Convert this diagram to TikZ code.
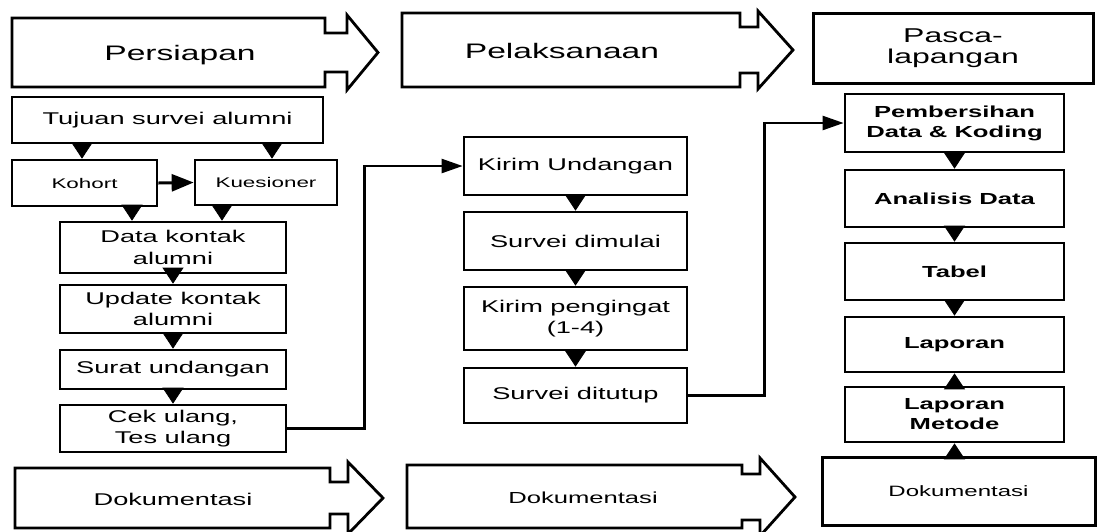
\documentclass[tikz,border=0pt]{standalone}
\usepackage{fontspec}
\setmainfont[FakeStretch=1.6]{Liberation Sans}
\usetikzlibrary{arrows.meta,calc}
\begin{document}
\begin{tikzpicture}[x=1pt,y=-1pt,
  box/.style={draw, line width=2.7pt, inner sep=0pt, align=center,
    font=\fontsize{17}{21.5}\selectfont},
  smallbox/.style={box, font=\fontsize{14}{17}\selectfont},
  boldbox/.style={box, font=\fontsize{16}{20}\selectfont\bfseries},
  tri/.style={line width=0.8pt, -{Triangle[length=16pt,width=21pt]}},
  conn/.style={line width=2.4pt, -{Triangle[length=21pt,width=14pt]}},
  hconn/.style={line width=3pt, -{Triangle[length=22pt,width=17pt]}},
  phase/.style={line width=2.8pt, line join=miter},
  phasetext/.style={anchor=base, font=\fontsize{21}{24}\selectfont},
  doktext/.style={anchor=base, font=\fontsize{17}{20}\selectfont},
]
\useasboundingbox (0,0) rectangle (1103,531);
\fill[white] (0,0) rectangle (1103,531);

% ---- phase arrows (top)
\draw[phase] (12,18) -- (325,18) -- (325,33) -- (347,33) -- (347,15) -- (378,52.5)
  -- (347,90) -- (347,72) -- (325,72) -- (325,87) -- (12,87) -- cycle;
\node[phasetext] (persiapan) at (180,60) {Persiapan};

\draw[phase] (402,13) -- (740,13) -- (740,27) -- (758,27) -- (758,11) -- (793,50)
  -- (758,89) -- (758,73) -- (740,73) -- (740,87) -- (402,87) -- cycle;
\node[phasetext] (pelaksanaan) at (562,58) {Pelaksanaan};

\node[box, line width=3pt, minimum width=280pt, minimum height=70pt,
  font=\fontsize{20}{21.5}\selectfont] (pasca) at (953,48) {Pasca-\\lapangan};

% ---- left column
\node[box, minimum width=311pt, minimum height=46pt] (tuj) at (167.5,120) {Tujuan survei alumni};
\node[smallbox, minimum width=145pt, minimum height=46pt] (koh) at (84.5,183) {Kohort};
\node[smallbox, minimum width=142pt, minimum height=45pt] (kue) at (266,182.5) {Kuesioner};
\node[box, minimum width=226pt, minimum height=51pt] (dat) at (173,247.5) {Data kontak\\alumni};
\node[box, minimum width=226pt, minimum height=48pt] (upd) at (173,309) {Update kontak\\alumni};
\node[box, minimum width=226pt, minimum height=39pt] (sur) at (173,369.5) {Surat undangan};
\node[box, minimum width=226pt, minimum height=47pt] (cek) at (173,428.5) {Cek ulang,\\Tes ulang};

\draw[tri] (tuj.south -| 82,0) -- (koh.north -| 82,0);
\draw[tri] (tuj.south -| 272,0) -- (kue.north -| 272,0);
\draw[hconn] (koh.east) -- (kue.west);
\draw[tri] (koh.south -| 132,0) -- (dat.north -| 132,0);
\draw[tri] (kue.south -| 222,0) -- (dat.north -| 222,0);
\draw[tri] (dat.south) -- (upd.north);
\draw[tri] (upd.south) -- (sur.north);
\draw[tri] (sur.south) -- (cek.north);

% ---- middle column
\node[box, minimum width=223pt, minimum height=58pt] (kir) at (575.5,166) {Kirim Undangan};
\node[box, minimum width=223pt, minimum height=58pt] (smu) at (575.5,241) {Survei dimulai};
\node[box, minimum width=223pt, minimum height=63pt] (kpe) at (575.5,318.5) {Kirim pengingat\\(1-4)};
\node[box, minimum width=223pt, minimum height=55pt] (std) at (575.5,395.5) {Survei ditutup};

\draw[tri] (kir.south) -- (smu.north);
\draw[tri] (smu.south) -- (kpe.north);
\draw[tri] (kpe.south) -- (std.north);

% ---- right column
\node[boldbox, minimum width=219pt, minimum height=58pt] (pem) at (954.5,123) {Pembersihan\\Data \& Koding};
\node[boldbox, minimum width=219pt, minimum height=57pt] (ana) at (954.5,198.5) {Analisis Data};
\node[boldbox, minimum width=219pt, minimum height=57pt] (tab) at (954.5,271.5) {Tabel};
\node[boldbox, minimum width=219pt, minimum height=55pt] (lap) at (954.5,344.5) {Laporan};
\node[boldbox, minimum width=219pt, minimum height=55pt] (lme) at (954.5,414.5) {Laporan\\Metode};
\node[box, line width=3pt, minimum width=273pt, minimum height=68pt,
  font=\fontsize{15}{18}\selectfont] (dok3) at (958.5,491) {Dokumentasi};

\draw[tri] (pem.south) -- (ana.north);
\draw[tri] (ana.south) -- (tab.north);
\draw[tri] (tab.south) -- (lap.north);
\draw[tri] (lme.north) -- (lap.south);
\draw[tri] (dok3.north -| lme.north) -- (lme.south);

% ---- connectors between columns
\draw[conn] (cek.east) -- ++(77,0) |- (kir.west);
\draw[conn] (std.east) -- ++(76,0) |- (pem.west);

% ---- phase arrows (bottom)
\draw[phase] (15,468) -- (330,468) -- (330,482) -- (348,482) -- (348,462) -- (383,498)
  -- (348,534) -- (348,514) -- (330,514) -- (330,528) -- (15,528) -- cycle;
\node[doktext] (dok1) at (173,505) {Dokumentasi};

\draw[phase] (407,465) -- (742,465) -- (742,474) -- (760,474) -- (760,458) -- (795,497)
  -- (760,536) -- (760,520) -- (742,520) -- (742,528) -- (407,528) -- cycle;
\node[doktext, font=\fontsize{16}{19}\selectfont] (dok2) at (583,503) {Dokumentasi};
\end{tikzpicture}
\end{document}
